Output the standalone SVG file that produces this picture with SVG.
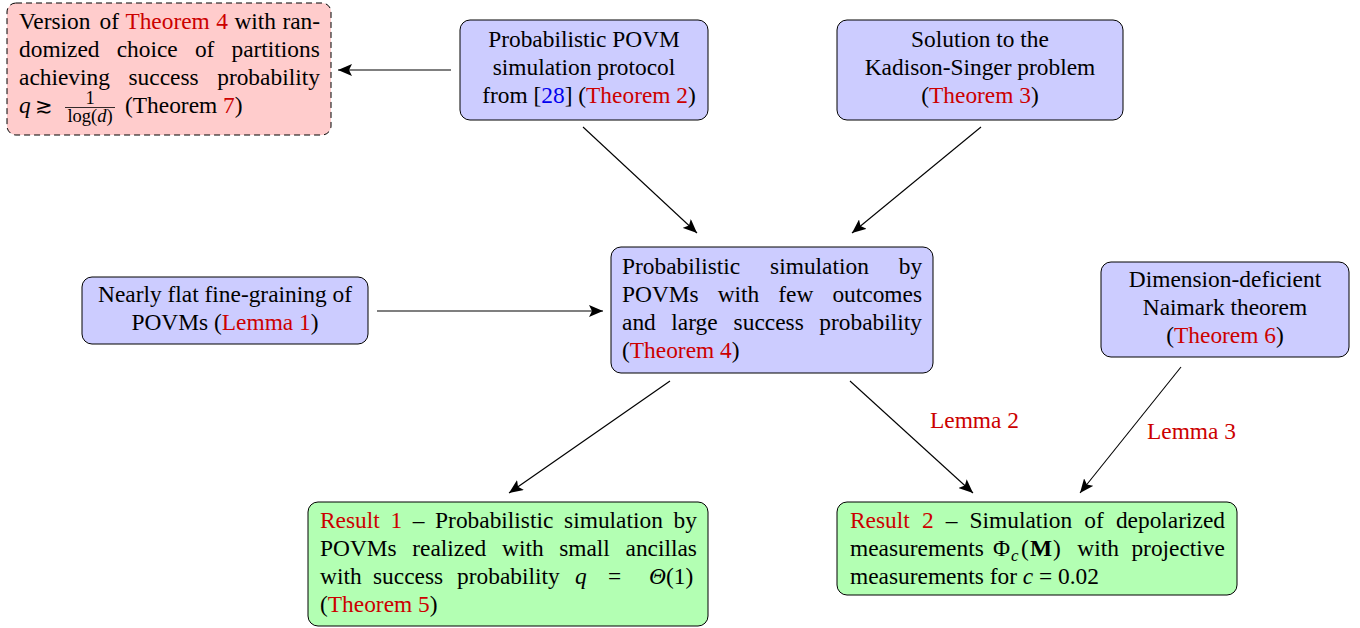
<svg xmlns="http://www.w3.org/2000/svg" width="1360" height="628" viewBox="0 0 1360 628">
<style>
text{font-family:"Liberation Serif","Times New Roman",serif;font-size:23.4px;fill:#000}
.c{text-anchor:middle}
.r{fill:#cc0000}
.b{fill:#0000ee}
.i{font-style:italic}
.s{font-size:17px}
.f{font-size:18.5px}
.blue{fill:#ccccff;stroke:#000;stroke-width:1}
.green{fill:#b3ffb3;stroke:#000;stroke-width:1}
.pink{fill:#ffcccc;stroke:#000;stroke-width:1;stroke-dasharray:6 4}
.e{stroke:#000;stroke-width:1.1;fill:none;marker-end:url(#ah)}
</style>
<defs>
<marker id="ah" markerUnits="userSpaceOnUse" markerWidth="16" markerHeight="12" refX="14" refY="6" orient="auto">
<path d="M0,0 L14,6 L0,12 L3,6 Z" fill="#000"/>
</marker>
</defs>

<g id="connectors">
<line class="e" x1="451" y1="70" x2="338" y2="70"/>
<line class="e" x1="583" y1="127" x2="697" y2="233"/>
<line class="e" x1="981" y1="127" x2="852" y2="233"/>
<line class="e" x1="377" y1="311" x2="603" y2="311"/>
<line class="e" x1="670" y1="381" x2="509" y2="493"/>
<line class="e" x1="850" y1="381" x2="973" y2="493"/>
<line class="e" x1="1181" y1="367" x2="1080" y2="493"/>
<text class="r" x="930" y="428">Lemma 2</text>
<text class="r" x="1147" y="439">Lemma 3</text>
</g>

<g id="nodeA">
<rect class="pink" x="7" y="3" width="324" height="132" rx="9"/>
<text y="29"><tspan x="19">Version</tspan><tspan x="99.5">of</tspan><tspan class="r" x="125.4">Theorem</tspan><tspan class="r" x="216.3">4</tspan><tspan x="234.4">with</tspan><tspan x="282.4">ran-</tspan></text>
<text y="57"><tspan x="19">domized</tspan><tspan x="116.7">choice</tspan><tspan x="194.9">of</tspan><tspan x="231.5">partitions</tspan></text>
<text y="85"><tspan x="19">achieving</tspan><tspan x="128.5">success</tspan><tspan x="217.2">probability</tspan></text>
<text y="113"><tspan class="i" x="19">q</tspan><tspan x="35" style="font-family:'DejaVu Serif',serif;font-size:21px">≳</tspan></text>
<text class="c f" x="90" y="104">1</text>
<line x1="65" y1="107.5" x2="115" y2="107.5" stroke="#000" stroke-width="0.8"/>
<text class="c f" x="90" y="122">log(<tspan class="i">d</tspan>)</text>
<text y="113"><tspan x="125">(Theorem </tspan><tspan class="r">7</tspan><tspan>)</tspan></text>
</g>

<g id="nodeB">
<rect class="blue" x="460" y="20" width="248" height="100" rx="10"/>
<text class="c" x="584" y="47">Probabilistic POVM</text>
<text class="c" x="584" y="75">simulation protocol</text>
<text class="c" x="589" y="103">from [<tspan class="b">28</tspan>] (<tspan class="r">Theorem 2</tspan>)</text>
</g>

<g id="nodeC">
<rect class="blue" x="837" y="20" width="286" height="100" rx="10"/>
<text class="c" x="980" y="47">Solution to the</text>
<text class="c" x="980" y="75">Kadison-Singer problem</text>
<text class="c" x="980" y="103">(<tspan class="r">Theorem 3</tspan>)</text>
</g>

<g id="nodeD">
<rect class="blue" x="82" y="277" width="286" height="67" rx="10"/>
<text class="c" x="225" y="302">Nearly flat fine-graining of</text>
<text class="c" x="225" y="330">POVMs (<tspan class="r">Lemma 1</tspan>)</text>
</g>

<g id="nodeE">
<rect class="blue" x="611" y="247" width="322" height="126" rx="10"/>
<text y="274"><tspan x="622">Probabilistic</tspan><tspan x="770.1">simulation</tspan><tspan x="898.7">by</tspan></text>
<text y="302"><tspan x="622">POVMs</tspan><tspan x="717.7">with</tspan><tspan x="778.3">few</tspan><tspan x="832.4">outcomes</tspan></text>
<text y="330"><tspan x="622">and</tspan><tspan x="671.3">large</tspan><tspan x="733.6">success</tspan><tspan x="819.3">probability</tspan></text>
<text y="358" x="622">(<tspan class="r">Theorem 4</tspan>)</text>
</g>

<g id="nodeF">
<rect class="blue" x="1101" y="262" width="248" height="95" rx="10"/>
<text class="c" x="1225" y="287">Dimension-deficient</text>
<text class="c" x="1225" y="315">Naimark theorem</text>
<text class="c" x="1225" y="343">(<tspan class="r">Theorem 6</tspan>)</text>
</g>

<g id="nodeG">
<rect class="green" x="308" y="502" width="400" height="124" rx="10"/>
<text y="528"><tspan class="r" x="320">Result</tspan><tspan class="r" x="390.5">1</tspan><tspan x="412.8">–</tspan><tspan x="435.1">Probabilistic</tspan><tspan x="564.1">simulation</tspan><tspan x="673.6">by</tspan></text>
<text y="556"><tspan x="320">POVMs</tspan><tspan x="412.3">realized</tspan><tspan x="502">with</tspan><tspan x="559.2">small</tspan><tspan x="625.5">ancillas</tspan></text>
<text y="584"><tspan x="320">with</tspan><tspan x="373">success</tspan><tspan x="457">probability</tspan><tspan class="i" x="575">q</tspan><tspan x="608">=</tspan><tspan class="i" x="649">Θ</tspan><tspan>(1)</tspan></text>
<text y="612" x="320">(<tspan class="r">Theorem 5</tspan>)</text>
</g>

<g id="nodeH">
<rect class="green" x="837" y="502" width="400" height="93" rx="10"/>
<text y="528"><tspan class="r" x="850">Result</tspan><tspan class="r" x="921.9">2</tspan><tspan x="945.7">–</tspan><tspan x="969.5">Simulation</tspan><tspan x="1084.3">of</tspan><tspan x="1115.9">depolarized</tspan></text>
<text y="556"><tspan x="850">measurements</tspan><tspan x="993">Φ</tspan><tspan class="i s" x="1011" y="561">c</tspan><tspan x="1021" y="556">(</tspan><tspan x="1030" style="font-weight:bold">M</tspan><tspan x="1053">)</tspan><tspan x="1077.3">with</tspan><tspan x="1131.4">projective</tspan></text>
<text y="584" x="850">measurements for <tspan class="i">c</tspan> = 0.02</text>
</g>
</svg>
